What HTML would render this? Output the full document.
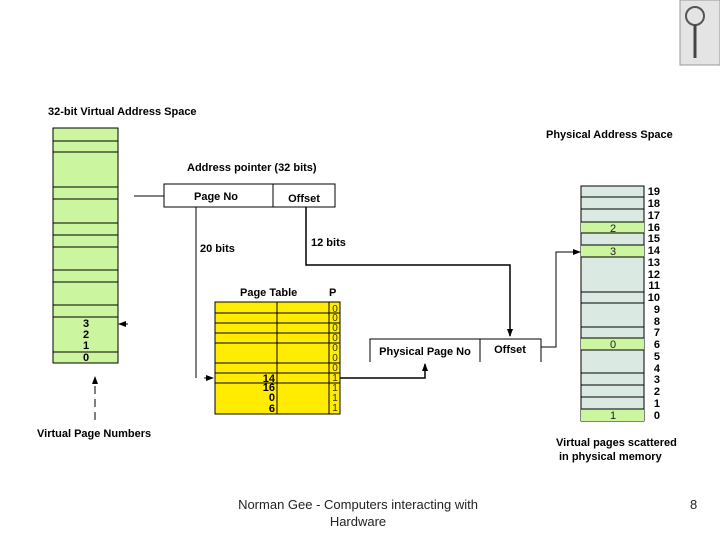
<!DOCTYPE html>
<html><head><meta charset="utf-8"><style>
html,body{margin:0;padding:0;background:#fff;}
svg{display:block;font-family:"Liberation Sans",Arial,sans-serif;}
.b{font-weight:bold;font-size:11px;}
</style></head><body>
<svg width="720" height="540" viewBox="0 0 720 540" xmlns="http://www.w3.org/2000/svg">
<defs><marker id="ar" markerWidth="8" markerHeight="8" refX="7" refY="4" orient="auto" markerUnits="userSpaceOnUse"><path d="M0,1 L8,4 L0,7 z" fill="#000"/></marker></defs>
<!-- icon top right -->
<rect x="680" y="0" width="40" height="65" fill="#e4e4e4" stroke="#999"/>
<circle cx="695" cy="16" r="9" fill="none" stroke="#555" stroke-width="2"/>
<line x1="695" y1="25" x2="695" y2="58" stroke="#444" stroke-width="3"/>
<text x="48" y="115" class="b" fill="#000">32-bit Virtual Address Space</text>
<!-- left column -->
<rect x="53" y="128" width="65" height="235" fill="#ccf5a0" stroke="#000"/>
<g stroke="#000" stroke-width="1">
<line x1="53" y1="141" x2="118" y2="141"/><line x1="53" y1="152" x2="118" y2="152"/>
<line x1="53" y1="187" x2="118" y2="187"/><line x1="53" y1="199" x2="118" y2="199"/>
<line x1="53" y1="223" x2="118" y2="223"/><line x1="53" y1="235" x2="118" y2="235"/>
<line x1="53" y1="247" x2="118" y2="247"/><line x1="53" y1="270" x2="118" y2="270"/>
<line x1="53" y1="282" x2="118" y2="282"/><line x1="53" y1="305" x2="118" y2="305"/>
<line x1="53" y1="317" x2="118" y2="317"/><line x1="53" y1="352" x2="118" y2="352"/>
</g>
<g class="b" text-anchor="middle"><text x="86" y="327">3</text><text x="86" y="338">2</text><text x="86" y="349">1</text><text x="86" y="361">0</text></g>
<line x1="128" y1="324" x2="119" y2="324" stroke="#000" marker-end="url(#ar)"/>
<line x1="95" y1="420" x2="95" y2="377" stroke="#000" stroke-dasharray="8,5" marker-end="url(#ar)"/>
<text x="37" y="437" class="b">Virtual Page  Numbers</text>
<!-- address pointer -->
<text x="187" y="171" class="b">Address pointer (32 bits)</text>
<rect x="164" y="184" width="171" height="23" fill="#fff" stroke="#000"/>
<line x1="273" y1="184" x2="273" y2="207" stroke="#000"/>
<text x="216" y="200" class="b" text-anchor="middle">Page No</text>
<text x="304" y="202" class="b" text-anchor="middle">Offset</text>
<line x1="134" y1="196" x2="164" y2="196" stroke="#000"/>
<polyline points="196,207 196,378" fill="none" stroke="#000"/>
<line x1="204" y1="378" x2="213" y2="378" stroke="#000" marker-end="url(#ar)"/>
<text x="200" y="252" class="b">20 bits</text>
<text x="311" y="246" class="b">12 bits</text>
<polyline points="306,207 306,265 510,265 510,336" fill="none" stroke="#000" stroke-width="1.5" marker-end="url(#ar)"/>
<!-- page table -->
<text x="240" y="296" class="b">Page Table</text>
<text x="329" y="296" class="b">P</text>
<rect x="215" y="302" width="125" height="112" fill="#ffec00" stroke="#000"/>
<g stroke="#000">
<line x1="277" y1="302" x2="277" y2="414"/><line x1="329" y1="302" x2="329" y2="414"/>
<line x1="215" y1="313" x2="340" y2="313"/><line x1="215" y1="323" x2="340" y2="323"/>
<line x1="215" y1="333" x2="340" y2="333"/><line x1="215" y1="343" x2="340" y2="343"/>
<line x1="215" y1="363" x2="340" y2="363"/><line x1="215" y1="373" x2="340" y2="373"/>
<line x1="215" y1="383" x2="340" y2="383"/>
</g>
<g font-size="10" fill="#333" text-anchor="middle">
<text x="335" y="312">0</text><text x="335" y="321">0</text><text x="335" y="331">0</text><text x="335" y="341">0</text><text x="335" y="351">0</text><text x="335" y="361">0</text><text x="335" y="371">0</text><text x="335" y="381">1</text><text x="335" y="391">1</text><text x="335" y="401">1</text><text x="335" y="411">1</text>
</g>
<g class="b" text-anchor="end" font-size="12">
<text x="275" y="382">14</text><text x="275" y="391">16</text><text x="275" y="401">0</text><text x="275" y="412">6</text>
</g>
<polyline points="340,378 425,378 425,364" fill="none" stroke="#000" stroke-width="1.5" marker-end="url(#ar)"/>
<!-- physical address box -->
<polyline points="370,362 370,339 541,339 541,362" fill="none" stroke="#000"/>
<line x1="480" y1="339" x2="480" y2="362" stroke="#000"/>
<text x="425" y="355" class="b" text-anchor="middle">Physical Page No</text>
<text x="510" y="353" class="b" text-anchor="middle">Offset</text>
<polyline points="541,347 556,347 556,252 580,252" fill="none" stroke="#000" marker-end="url(#ar)"/>
<!-- physical column -->
<text x="546" y="138" class="b">Physical Address Space</text>
<rect x="581" y="186" width="63" height="235" fill="#dbe9e3" stroke="#000"/>
<rect x="581" y="222" width="63" height="11" fill="#ccf5a0"/>
<rect x="581" y="245" width="63" height="12" fill="#ccf5a0"/>
<rect x="581" y="338" width="63" height="12" fill="#ccf5a0"/>
<rect x="581" y="409" width="63" height="12" fill="#ccf5a0"/>
<g stroke="#000">
<line x1="581" y1="197" x2="644" y2="197"/><line x1="581" y1="209" x2="644" y2="209"/>
<line x1="581" y1="222" x2="644" y2="222"/><line x1="581" y1="233" x2="644" y2="233"/>
<line x1="581" y1="245" x2="644" y2="245"/><line x1="581" y1="257" x2="644" y2="257"/>
<line x1="581" y1="292" x2="644" y2="292"/><line x1="581" y1="303" x2="644" y2="303"/>
<line x1="581" y1="327" x2="644" y2="327"/><line x1="581" y1="338" x2="644" y2="338"/>
<line x1="581" y1="350" x2="644" y2="350"/><line x1="581" y1="373" x2="644" y2="373"/>
<line x1="581" y1="385" x2="644" y2="385"/><line x1="581" y1="397" x2="644" y2="397"/>
<line x1="581" y1="409" x2="644" y2="409"/>
</g>
<g font-size="11" text-anchor="middle" fill="#222">
<text x="613" y="232">2</text><text x="613" y="255">3</text><text x="613" y="348">0</text><text x="613" y="419">1</text>
</g>
<g class="b" font-size="12" text-anchor="end">
<text x="660" y="195">19</text><text x="660" y="207">18</text><text x="660" y="219">17</text><text x="660" y="231">16</text><text x="660" y="242">15</text><text x="660" y="254">14</text><text x="660" y="266">13</text><text x="660" y="278">12</text><text x="660" y="289">11</text><text x="660" y="301">10</text><text x="660" y="313">9</text><text x="660" y="325">8</text><text x="660" y="336">7</text><text x="660" y="348">6</text><text x="660" y="360">5</text><text x="660" y="372">4</text><text x="660" y="383">3</text><text x="660" y="395">2</text><text x="660" y="407">1</text><text x="660" y="419">0</text>
</g>
<text x="556" y="446" class="b">Virtual pages scattered</text>
<text x="559" y="460" class="b">in physical memory</text>
<!-- footer -->
<text x="358" y="509" font-size="13" text-anchor="middle" fill="#222">Norman Gee - Computers interacting with</text>
<text x="358" y="526" font-size="13" text-anchor="middle" fill="#222">Hardware</text>
<text x="690" y="509" font-size="13" fill="#222">8</text>
</svg>
</body></html>
